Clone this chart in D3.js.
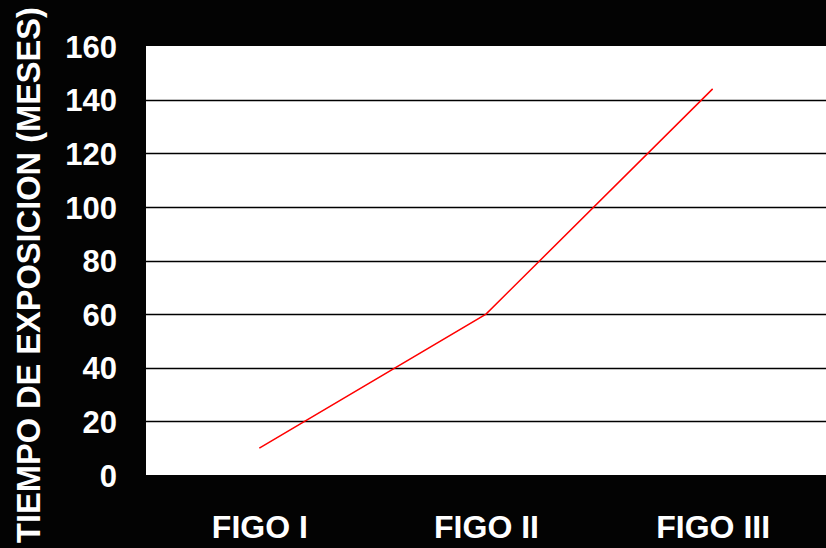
<!DOCTYPE html>
<html>
<head>
<meta charset="utf-8">
<script src="https://cdn.jsdelivr.net/npm/d3@7"></script>
<style>
  html, body { margin: 0; padding: 0; background: #030303; }
  svg { display: block; }
  text { font-family: "Liberation Sans", Arial, sans-serif; font-weight: bold; fill: #ffffff; }
</style>
</head>
<body>
<svg id="chart" width="826" height="548"></svg>
<script>
// Exposure time (months) by FIGO stage
const categories = ["FIGO I", "FIGO II", "FIGO III"];
const months = [10, 60, 144];
const yTicks = [0, 20, 40, 60, 80, 100, 120, 140, 160];
const yTitle = "TIEMPO DE EXPOSICION (MESES)";

const W = 826, H = 548;
const margin = { top: 46, right: 0, bottom: 73, left: 146 };
const innerW = W - margin.left - margin.right;
const innerH = H - margin.top - margin.bottom;

const svg = d3.select("#chart");
svg.append("rect").attr("width", W).attr("height", H).attr("fill", "#030303");

const g = svg.append("g").attr("transform", `translate(${margin.left},${margin.top})`);

const x = d3.scalePoint().domain(categories).range([0, innerW]).padding(0.5);
const y = d3.scaleLinear().domain([0, 160]).range([innerH, 0]);

// plot area
g.append("rect")
  .attr("width", innerW).attr("height", innerH)
  .attr("fill", "#ffffff");

// horizontal gridlines
g.selectAll("line.grid")
  .data(yTicks.filter(d => d > 0 && d < 160))
  .join("line")
  .attr("class", "grid")
  .attr("x1", 0).attr("x2", innerW)
  .attr("y1", d => Math.round(y(d)) + 0.5).attr("y2", d => Math.round(y(d)) + 0.5)
  .attr("stroke", "#000").attr("stroke-width", 1.4);

// y axis labels
const yAxis = d3.axisLeft(y).tickValues(yTicks).tickSize(0).tickPadding(29);
const ya = g.append("g").call(yAxis);
ya.select(".domain").remove();
ya.selectAll("text")
  .attr("font-size", 31)
  .attr("fill", "#fff")
  .attr("dy", "0.36em");

// x axis labels
const xAxis = d3.axisBottom(x).tickSize(0).tickPadding(0);
const xa = g.append("g").attr("transform", `translate(0,${innerH})`).call(xAxis);
xa.select(".domain").remove();
xa.selectAll("text")
  .attr("font-size", 32)
  .attr("fill", "#fff")
  .attr("dy", null)
  .attr("y", 63);

// y axis title
svg.append("text")
  .attr("transform", `translate(40,${H / 2 + 1}) rotate(-90)`)
  .attr("text-anchor", "middle")
  .attr("font-size", 32.6)
  .text(yTitle);

// series line
const line = d3.line()
  .x((d, i) => x(categories[i]))
  .y(d => y(d));

g.append("path")
  .datum(months)
  .attr("d", line)
  .attr("fill", "none")
  .attr("stroke", "#ff0000")
  .attr("stroke-width", 1.5);
</script>
</body>
</html>
